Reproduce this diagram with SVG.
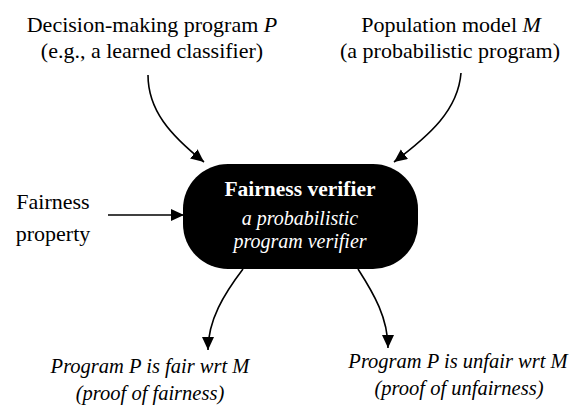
<svg xmlns="http://www.w3.org/2000/svg" width="582" height="410" viewBox="0 0 582 410">
<style>
text{font-family:"Liberation Serif","DejaVu Serif",serif;font-size:22px;fill:#000;text-anchor:middle}
.it{font-style:italic;font-size:20.5px}
.w{fill:#fff}
.b{font-weight:bold;font-size:21.5px}
.in{font-style:italic;font-size:20px}
.c{fill:none;stroke:#000;stroke-width:1.6}
</style>
<defs>
<marker id="ah" markerUnits="userSpaceOnUse" markerWidth="14" markerHeight="13" refX="13" refY="6" orient="auto">
<path d="M0,0 L13,6 L0,12 z" fill="#000"/>
</marker>
</defs>
<g id="connectors">
<path class="c" d="M148,75 C148,110 170,135 204,162" marker-end="url(#ah)"/>
<path class="c" d="M461,73 C458,110 430,135 394,162" marker-end="url(#ah)"/>
<path class="c" d="M108,215 L184,215" marker-end="url(#ah)"/>
<path class="c" d="M243,269 C224,294 208,320 208,350" marker-end="url(#ah)"/>
<path class="c" d="M358,269 C374,294 388,318 388,348" marker-end="url(#ah)"/>
</g>
<g id="verifier">
<rect x="183" y="164" width="235" height="105" rx="45" ry="45" fill="#000"/>
<text class="w b" x="300" y="196">Fairness verifier</text>
<text class="w in" x="300" y="225">a probabilistic</text>
<text class="w in" x="300" y="248">program verifier</text>
</g>
<g id="program">
<text x="152" y="32">Decision-making program  <tspan font-style="italic">P</tspan></text>
<text x="152" y="58">(e.g., a learned classifier)</text>
</g>
<g id="population">
<text x="451" y="32">Population model <tspan font-style="italic">M</tspan></text>
<text x="450" y="58">(a probabilistic program)</text>
</g>
<g id="property">
<text x="53" y="209">Fairness</text>
<text x="53" y="241">property</text>
</g>
<g id="fair">
<text class="it" x="150" y="373">Program P is fair wrt M</text>
<text class="it" x="150" y="400">(proof of fairness)</text>
</g>
<g id="unfair">
<text class="it" x="458" y="368">Program P is unfair wrt M</text>
<text class="it" x="459" y="395">(proof of unfairness)</text>
</g>
</svg>
